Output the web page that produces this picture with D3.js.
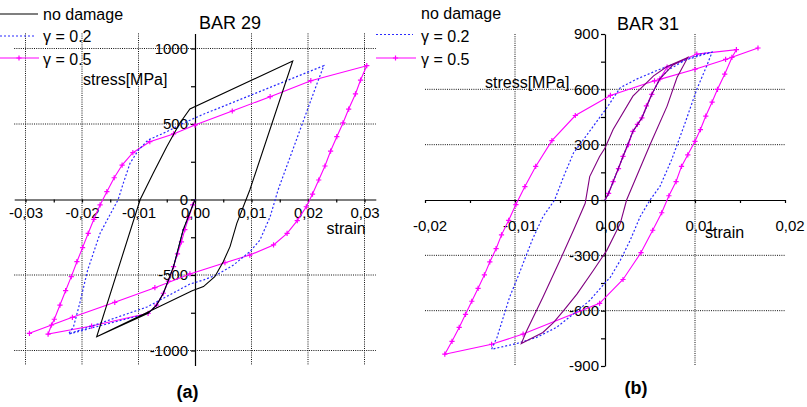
<!DOCTYPE html>
<html>
<head>
<meta charset="utf-8">
<script src="https://cdn.jsdelivr.net/npm/d3@7"></script>
<style>
  body { margin: 0; background: #fff; }
  svg { font-family: "Liberation Sans", Arial, sans-serif; }
  .grid line { stroke: #111; stroke-width: 1; stroke-dasharray: 1,1.2; }
  .axis path, .axis line { stroke: #000; stroke-width: 1.2; }
  .axis text { font-size: 15px; fill: #000; font-family: "Liberation Sans", Arial, sans-serif; }
  .lbl { font-size: 16px; fill: #000; }
</style>
</head>
<body>
<svg id="chart" width="807" height="407"></svg>
<script>
// legend names
var seriesNames = ["no damage", "\u03b3 = 0.2", "\u03b3 = 0.5"];

// BAR 29 : [strain, stress MPa]
var bar29NoDamage = [[0,0],[-0.0021,-202],[-0.0038,-445],[-0.0056,-621],[-0.0068,-699],[-0.0083,-754],
  [-0.0174,-909],[-0.0097,0],[-0.0074,174],[-0.005,350],[-0.0027,505],[-0.0009,600],[0.0173,917],
  [0.0097,63],[0.0074,-158],[0.0062,-312],[0.005,-412],[0.0035,-511],[0.0015,-577],[-0.0005,-605],[-0.0174,-909]];

var bar29Gamma02 = [[0,0],[-0.0021,-202],[-0.0038,-445],[-0.0056,-621],[-0.0068,-699],[-0.0083,-754],
  [-0.0224,-891],[-0.0215,-842],[-0.0204,-688],[-0.019,-467],[-0.0168,-224],[-0.0136,0],[-0.0127,107],
  [-0.0115,240],[-0.01,328],[-0.0083,394],[-0.005,449],[-0.0021,505],[0.0012,560],[0.0228,886],
  [0.0215,758],[0.0147,63],[0.0133,-114],[0.0115,-268],[0.0097,-346],[0.0068,-434],[0.0038,-500],
  [0.0015,-533],[-0.0009,-560],[-0.0085,-712],[-0.0224,-891]];

var bar29Gamma05 = [[0,0],[-0.0004,-36],[-0.0011,-120],[-0.0018,-200],[-0.0024,-280],[-0.0031,-360],
  [-0.0038,-445],[-0.0047,-540],[-0.0056,-621],[-0.0068,-699],[-0.0083,-754],[-0.0183,-838],
  [-0.026,-891],[-0.0254,-831],[-0.0249,-793],[-0.0239,-699],[-0.0229,-604],[-0.0219,-511],
  [-0.0209,-412],[-0.0199,-319],[-0.0189,-224],[-0.0179,-131],[-0.0168,-36],[-0.0156,52],
  [-0.0143,144],[-0.0129,228],[-0.011,310],[-0.008,383],[-0.0038,434],[0,493],[0.0066,586],
  [0.0133,681],[0.0205,787],[0.0304,886],[0.0293,791],[0.0284,699],[0.0272,599],[0.0262,507],
  [0.0251,416],[0.024,321],[0.023,222],[0.0219,129],[0.0208,36],[0.0197,-48],[0.0181,-140],
  [0.0163,-224],[0.0139,-301],[0.0097,-368],[0.0053,-419],[-0.0009,-493],[-0.0071,-584],
  [-0.0142,-681],[-0.0217,-780],[-0.0293,-886]];

// BAR 31 : [strain, stress MPa]
var bar31NoDamage = [[0,0],[0.0004,36],[0.002,236],[0.0031,372],[0.0041,445],[0.0052,573],[0.0061,657],
  [0.0075,730],[0.0092,773],[0.008,664],[0.0069,509],[0.005,300],[0.0024,0],[0.0017,-127],[0.0002,-273],
  [-0.0013,-382],[-0.0031,-509],[-0.0046,-600],[-0.0057,-664],[-0.0069,-718],[-0.0093,-778],
  [-0.0087,-709],[-0.0069,-527],[-0.005,-327],[-0.0035,-164],[-0.0022,-18],[-0.0017,127],
  [-0.0006,236],[0,282],[0.0009,382],[0.0031,563],[0.0054,673],[0.0069,724],[0.0092,773]];

var bar31Gamma02 = [[0,0],[0.0004,36],[0.002,236],[0.0031,372],[0.0041,445],[0.0052,573],[0.0061,657],
  [0.007,705],[0.009,760],[0.0119,802],[0.0113,727],[0.0102,600],[0.0089,418],[0.0074,218],[0.0061,73],
  [0.005,0],[0.0039,-91],[0.0028,-218],[0.0017,-327],[0.0006,-418],[0,-450],[-0.0017,-545],
  [-0.0035,-618],[-0.0054,-691],[-0.0076,-745],[-0.0098,-778],[-0.0126,-809],[-0.012,-745],
  [-0.0113,-636],[-0.0106,-527],[-0.01,-455],[-0.0094,-382],[-0.0081,-218],[-0.0069,-91],[-0.0056,0],
  [-0.0046,127],[-0.0035,255],[-0.0024,327],[-0.0013,400],[0.0002,500],[0.0017,609],[0.0035,655],
  [0.0061,709],[0.0087,755],[0.0106,791],[0.0119,802]];

var bar31Gamma05 = [[0,0],[0.0004,36],[0.0009,100],[0.0015,170],[0.002,236],[0.0026,300],[0.0031,372],
  [0.0036,410],[0.0041,445],[0.0046,510],[0.0052,573],[0.0061,657],[0.0069,720],[0.0102,791],
  [0.0146,815],[0.0141,773],[0.0133,682],[0.0125,600],[0.0119,531],[0.0112,455],[0.0106,382],
  [0.01,318],[0.0092,245],[0.0085,182],[0.0079,100],[0.0071,23],[0.0063,-69],[0.0053,-164],
  [0.004,-285],[0.002,-431],[-0.0006,-560],[-0.0091,-727],[-0.0126,-782],[-0.0178,-836],
  [-0.017,-766],[-0.0162,-691],[-0.0155,-620],[-0.0148,-549],[-0.0141,-479],[-0.0134,-406],
  [-0.0128,-336],[-0.0121,-264],[-0.0115,-189],[-0.0107,-110],[-0.0099,-25],[-0.0089,73],
  [-0.0077,182],[-0.0059,322],[-0.0033,458],[0.0006,567],[0.0055,646],[0.01,709],[0.0134,762],
  [0.017,824]];

var svg = d3.select("#chart");

function fmtStrain(d) {
  if (Math.abs(d) < 1e-9) return "0,00";
  return (d < 0 ? "-" : "") + Math.abs(d).toFixed(2).replace(".", ",");
}

function crossAt(g, pts, x, y, color) {
  g.selectAll("path.mk")
    .data(pts)
    .enter().append("path")
    .attr("class", "mk")
    .attr("d", "M-2.6,0H2.6M0,-2.6V2.6")
    .attr("transform", function(d) { return "translate(" + x(d[0]) + "," + y(d[1]) + ")"; })
    .attr("stroke", color)
    .attr("stroke-width", 1.2)
    .attr("fill", "none");
}

function panel(p) {
  var x = p.x, y = p.y;
  var g = svg.append("g");

  // grid
  var grid = g.append("g").attr("class", "grid");
  grid.selectAll("line.v").data(p.vGrid).enter().append("line")
    .attr("x1", function(d) { return x(d); }).attr("x2", function(d) { return x(d); })
    .attr("y1", y.range()[1]).attr("y2", y.range()[0]);
  grid.selectAll("line.h").data(p.hGrid).enter().append("line")
    .attr("y1", function(d) { return y(d); }).attr("y2", function(d) { return y(d); })
    .attr("x1", x.range()[0]).attr("x2", x.range()[1]);

  // axes
  var xAxis = d3.axisBottom(x)
    .tickValues(p.xTicks)
    .tickSize(3).tickSizeOuter(0).tickPadding(p.xPad)
    .tickFormat(function(d, i) { return i % 2 === 0 ? fmtStrain(d) : ""; });
  var yAxis = d3.axisLeft(y)
    .tickValues(p.yTicks)
    .tickSize(4).tickSizeOuter(0).tickPadding(p.yPad)
    .tickFormat(function(d) { return d % p.yLabelStep === 0 ? String(d) : ""; });

  var gx = g.append("g").attr("class", "axis")
    .attr("transform", "translate(0," + y(0) + ")")
    .call(xAxis);
  gx.selectAll("text").attr("x", p.xShift);
  g.append("g").attr("class", "axis")
    .attr("transform", "translate(" + x(0) + ",0)")
    .call(yAxis);

  var line = d3.line()
    .x(function(d) { return x(d[0]); })
    .y(function(d) { return y(d[1]); });

  // gamma = 0.5
  g.append("path").datum(p.g05).attr("d", line)
    .attr("fill", "none").attr("stroke", "#ff00ff").attr("stroke-width", 1.1);
  crossAt(g, p.g05.slice(1), x, y, "#ff00ff");

  // gamma = 0.2
  g.append("path").datum(p.g02).attr("d", line)
    .attr("fill", "none").attr("stroke", "#2a2aff").attr("stroke-width", 1.2)
    .attr("stroke-dasharray", "2,2");

  // no damage
  g.append("path").datum(p.nd).attr("d", line)
    .attr("fill", "none").attr("stroke", p.ndColor).attr("stroke-width", 1.1);

  // texts
  g.append("text").attr("class", "lbl").attr("x", p.title[1]).attr("y", p.title[2])
    .style("font-size", "18px").text(p.title[0]);
  g.append("text").attr("class", "lbl").attr("x", p.yTitle[0]).attr("y", p.yTitle[1]).text("stress[MPa]");
  g.append("text").attr("class", "lbl").attr("x", p.xTitle[0]).attr("y", p.xTitle[1]).text("strain");
  g.append("text").attr("class", "lbl").attr("x", p.tag[1]).attr("y", p.tag[2])
    .attr("text-anchor", "middle").style("font-size", "18px").style("font-weight", "bold").text(p.tag[0]);

  // legend
  var lg = g.append("g");
  var lx0 = p.legX[0], lx1 = p.legX[1], tx = p.legX[2];
  if (p.ndLegendLine) {
    lg.append("line").attr("x1", lx0).attr("x2", lx1).attr("y1", 14).attr("y2", 14)
      .attr("stroke", "#000").attr("stroke-width", 1.1);
  }
  lg.append("line").attr("x1", lx0).attr("x2", lx1 - 2).attr("y1", p.legBlueY).attr("y2", p.legBlueY)
    .attr("stroke", "#2a2aff").attr("stroke-width", 1.2).attr("stroke-dasharray", "2,2");
  lg.append("line").attr("x1", lx0).attr("x2", lx1 + 1).attr("y1", 58).attr("y2", 58)
    .attr("stroke", "#ff00ff").attr("stroke-width", 1.1);
  lg.append("path").attr("d", "M-2.6,0H2.6M0,-2.6V2.6")
    .attr("transform", "translate(" + ((lx0 + lx1) / 2) + ",58)")
    .attr("stroke", "#ff00ff").attr("stroke-width", 1.2);
  var ty = [p.legTopY, 42, 64.5];
  seriesNames.forEach(function(n, i) {
    lg.append("text").attr("class", "lbl").attr("x", tx).attr("y", ty[i]).text(n);
  });
}

panel({
  x: d3.scaleLinear().domain([-0.032, 0.032]).range([14.2, 375.8]),
  y: d3.scaleLinear().domain([-1100, 1100]).range([365.6, 33.4]),
  vGrid: [-0.03, -0.02, -0.01, 0.01, 0.02, 0.03],
  hGrid: [-1000, -500, 500, 1000],
  xTicks: d3.range(-6, 7).map(function(i) { return i * 0.005; }),
  yTicks: d3.range(-4, 5).map(function(i) { return i * 250; }),
  yLabelStep: 500, xPad: 5, yPad: 3, xShift: 0,
  nd: bar29NoDamage, g02: bar29Gamma02, g05: bar29Gamma05, ndColor: "#000",
  title: ["BAR 29", 199, 29], yTitle: [83, 85], xTitle: [326.5, 233.5], tag: ["(a)", 187.5, 398],
  legX: [0, 38, 43], ndLegendLine: true, legTopY: 19.5, legBlueY: 36
});

panel({
  x: d3.scaleLinear().domain([-0.02, 0.02]).range([425, 785]),
  y: d3.scaleLinear().domain([-900, 900]).range([366, 34]),
  vGrid: [-0.01, 0.01],
  hGrid: [-600, -300, 300, 600],
  xTicks: d3.range(-4, 5).map(function(i) { return i * 0.005; }),
  yTicks: d3.range(-6, 7).map(function(i) { return i * 150; }),
  yLabelStep: 300, xPad: 17, yPad: 2, xShift: 4.5,
  nd: bar31NoDamage, g02: bar31Gamma02, g05: bar31Gamma05, ndColor: "#800080",
  title: ["BAR 31", 617, 30], yTitle: [485, 88], xTitle: [705, 238], tag: ["(b)", 636, 394],
  legX: [376, 415, 421], ndLegendLine: false, legTopY: 18.5, legBlueY: 34.5
});
</script>
</body>
</html>
